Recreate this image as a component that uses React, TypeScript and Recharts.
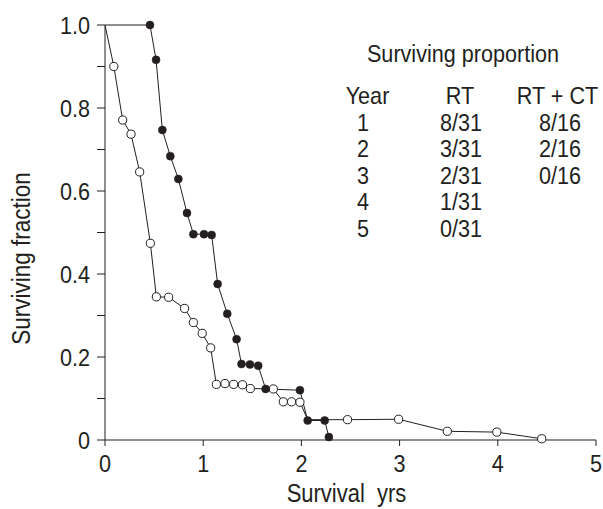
import React from 'react';
import { LineChart, Line, XAxis, YAxis, Customized } from 'recharts';

// Kaplan-Meier style survival curves
const rtTimes = [0, 0.09, 0.18, 0.265, 0.353, 0.462, 0.523, 0.648, 0.81, 0.9, 0.99, 1.076, 1.134, 1.222, 1.31, 1.4, 1.48, 1.714, 1.816, 1.9, 1.985, 2.064, 2.47, 2.99, 3.486, 3.99, 4.447];
const rtSurvival = [1.0, 0.9, 0.771, 0.737, 0.646, 0.474, 0.345, 0.344, 0.317, 0.283, 0.257, 0.222, 0.134, 0.136, 0.134, 0.133, 0.124, 0.123, 0.092, 0.092, 0.091, 0.049, 0.049, 0.05, 0.021, 0.019, 0.003];
const rtNoMarker = [true, false, false, false, false, false, false, false, false, false, false, false, false, false, false, false, false, false, false, false, false, true, false, false, false, false, false];

const rtctTimes = [0, 0.458, 0.52, 0.584, 0.665, 0.747, 0.835, 0.9, 1.008, 1.086, 1.147, 1.245, 1.34, 1.39, 1.476, 1.56, 1.636, 1.985, 2.064, 2.237, 2.28];
const rtctSurvival = [1.0, 1.0, 0.916, 0.747, 0.684, 0.629, 0.547, 0.496, 0.496, 0.494, 0.376, 0.304, 0.243, 0.183, 0.182, 0.179, 0.123, 0.12, 0.047, 0.047, 0.007];
const rtctNoMarker = [true, false, false, false, false, false, false, false, false, false, false, false, false, false, false, false, false, false, false, false, false];

const xTicks = [0, 1, 2, 3, 4, 5];
const yTicks = [0, 0.1, 0.2, 0.3, 0.4, 0.5, 0.6, 0.7, 0.8, 0.9, 1.0];
const yLabelTicks = [0, 0.2, 0.4, 0.6, 0.8, 1.0];

const xTitle = 'Survival\u00a0\u00a0yrs';
const yTitle = 'Surviving fraction';
const tableTitle = 'Surviving proportion';
const tableHeader = ['Year', 'RT', 'RT + CT'];
const tableYears = ['1', '2', '3', '4', '5'];
const tableRT = ['8/31', '3/31', '2/31', '1/31', '0/31'];
const tableRTCT = ['8/16', '2/16', '0/16', '', ''];

const rtData = rtTimes.map((t, i) => ({ t, s: rtSurvival[i], hide: rtNoMarker[i] }));
const rtctData = rtctTimes.map((t, i) => ({ t, s: rtctSurvival[i], hide: rtctNoMarker[i] }));

const FONT = "'Liberation Sans', Arial, sans-serif";
const INK = '#231f20';

const SText = (p: any) => (
  <text
    transform={`translate(${p.x}, ${p.y}) ${p.rotate ? `rotate(${p.rotate})` : ''} scale(${p.sx ?? 0.9}, 1)`}
    x={0}
    y={0}
    dy={p.dy}
    textAnchor={p.anchor ?? 'middle'}
    fontFamily={FONT}
    fontSize={p.size ?? 24}
    fill={INK}
  >
    {p.children}
  </text>
);

const OpenDot = (props: any) => {
  const { cx, cy, payload, index } = props;
  if (payload && payload.hide) return <g key={`o${index}`} />;
  return <circle key={`o${index}`} cx={cx} cy={cy} r={4.1} fill="#fff" stroke={INK} strokeWidth={1} />;
};
const FilledDot = (props: any) => {
  const { cx, cy, payload, index } = props;
  if (payload && payload.hide) return <g key={`f${index}`} />;
  return <circle key={`f${index}`} cx={cx} cy={cy} r={4} fill={INK} stroke={INK} strokeWidth={0.5} />;
};

const yFmt = (v: number) => {
  const hit = yLabelTicks.find((t) => Math.abs(t - v) < 1e-6);
  if (hit === undefined) return '';
  if (hit === 0) return '0';
  return hit.toFixed(1);
};

const YTick = (p: any) => {
  const label = yFmt(p.payload.value);
  if (!label) return <g />;
  return (
    <SText x={p.x} y={p.y} dy={8.5} anchor="end" size={24} sx={0.9}>
      {label}
    </SText>
  );
};

const XTick = (p: any) => (
  <SText x={p.x} y={p.y} dy={17} anchor="middle" size={24} sx={0.9}>
    {String(p.payload.value)}
  </SText>
);

const Table = () => {
  const colX = [363, 461, 560];
  const headX = [367.5, 460, 557.5];
  const rowY0 = 130.5;
  const step = 26.5;
  return (
    <g>
      <SText x={463} y={61.5} size={24} sx={0.9}>{tableTitle}</SText>
      {tableHeader.map((h, i) => (
        <SText key={`h${i}`} x={headX[i]} y={104} size={24} sx={0.9}>{h}</SText>
      ))}
      {tableYears.map((y, i) => (
        <g key={`r${i}`}>
          <SText x={colX[0]} y={rowY0 + i * step} size={24} sx={0.9}>{y}</SText>
          <SText x={colX[1]} y={rowY0 + i * step} size={24} sx={0.9}>{tableRT[i]}</SText>
          {tableRTCT[i] ? (
            <SText x={colX[2]} y={rowY0 + i * step} size={24} sx={0.9}>{tableRTCT[i]}</SText>
          ) : null}
        </g>
      ))}
    </g>
  );
};

export default function App() {
  return (
    <div style={{ position: 'absolute', left: 0, top: 0, width: 603, height: 509, background: '#fff' }}>
      <LineChart width={603} height={509} margin={{ top: 25, right: 7, bottom: 0, left: 0 }}>
        <XAxis
          dataKey="t"
          type="number"
          domain={[0, 5]}
          ticks={xTicks}
          allowDataOverflow
          height={69}
          tickSize={6}
          tickMargin={9}
          stroke={INK}
          tick={<XTick />}
          label={(p: any) => {
            const vb = p.viewBox || {};
            return (
              <SText x={vb.x + vb.width / 2 - 4} y={502} size={25} sx={0.88}>
                {xTitle}
              </SText>
            );
          }}
        />
        <YAxis
          dataKey="s"
          type="number"
          domain={[0, 1]}
          ticks={yTicks}
          interval={0}
          width={105}
          tickSize={8}
          tickMargin={7}
          stroke={INK}
          tick={<YTick />}
          label={(p: any) => {
            const vb = p.viewBox || {};
            return (
              <SText x={30} y={vb.y + vb.height / 2 + 26} rotate={-90} size={25} sx={0.9}>
                {yTitle}
              </SText>
            );
          }}
        />
        <Line data={rtData} dataKey="s" type="linear" stroke={INK} strokeWidth={1} dot={OpenDot} activeDot={false} isAnimationActive={false} />
        <Line data={rtctData} dataKey="s" type="linear" stroke={INK} strokeWidth={1} dot={FilledDot} activeDot={false} isAnimationActive={false} />
        <Customized component={Table} />
      </LineChart>
    </div>
  );
}
